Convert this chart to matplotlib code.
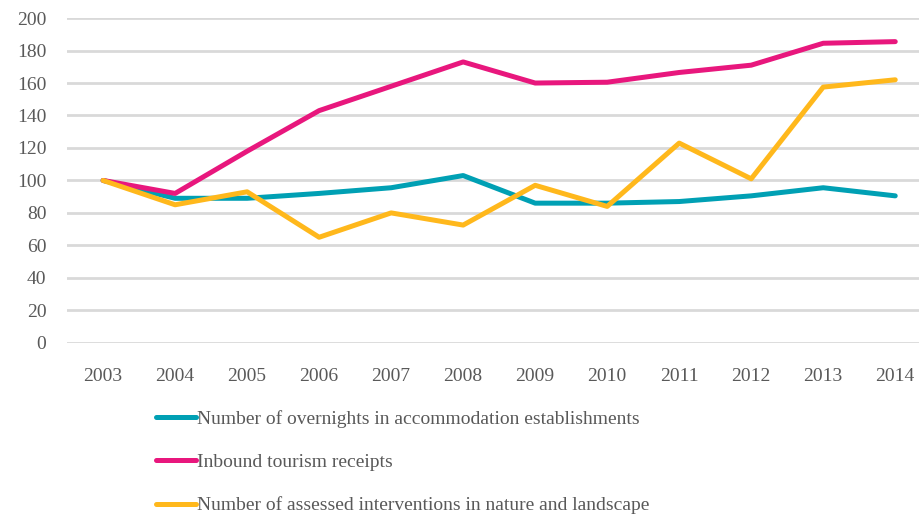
import matplotlib
matplotlib.use("Agg")
import matplotlib.pyplot as plt

years = [2003, 2004, 2005, 2006, 2007, 2008, 2009, 2010, 2011, 2012, 2013, 2014]
overnights = [100, 89, 89, 92, 95.5, 103, 86, 86, 87, 90.5, 95.5, 90.5]
receipts = [100, 92, 118, 143, 158, 173, 160, 160.5, 166.5, 171, 184.5, 185.5]
interventions = [100, 85, 93, 65, 80, 72.5, 97, 84, 123, 101, 157.5, 162]

labels = [
    "Number of overnights in accommodation establishments",
    "Inbound tourism receipts",
    "Number of assessed interventions in nature and landscape",
]
colors = ["#00A0B4", "#E8177D", "#FFB81C"]

plt.rcParams["font.family"] = ["Liberation Serif", "DejaVu Serif"]
text_col = "#595959"

fig = plt.figure(figsize=(9.19, 5.17), dpi=100)
ax = fig.add_axes([0.073, 0.337, 0.927, 0.628])

for vals, lab, col in zip([overnights, receipts, interventions], labels, colors):
    ax.plot(years, vals, color=col, lw=3.6, label=lab, solid_capstyle="round",
            solid_joinstyle="round")

ax.set_ylim(0, 200)
ax.set_xlim(2002.5, 2014.33)
ax.set_yticks(range(0, 201, 20))
ax.set_xticks(years)
ax.yaxis.grid(True, color="#D9D9D9", lw=2)
ax.set_axisbelow(True)
for s in ax.spines.values():
    s.set_visible(False)
ax.tick_params(length=0, labelsize=14, colors=text_col)
ax.tick_params(axis="y", pad=15)
ax.tick_params(axis="x", pad=18)

handles, labs = ax.get_legend_handles_labels()
fig.legend(handles, labs, loc="upper left", bbox_to_anchor=(0.159, 0.225),
           frameon=False, fontsize=14, handlelength=2.05, handletextpad=0.05,
           labelspacing=1.3, labelcolor=text_col, borderpad=0)

fig.savefig("out.png", dpi=100)
